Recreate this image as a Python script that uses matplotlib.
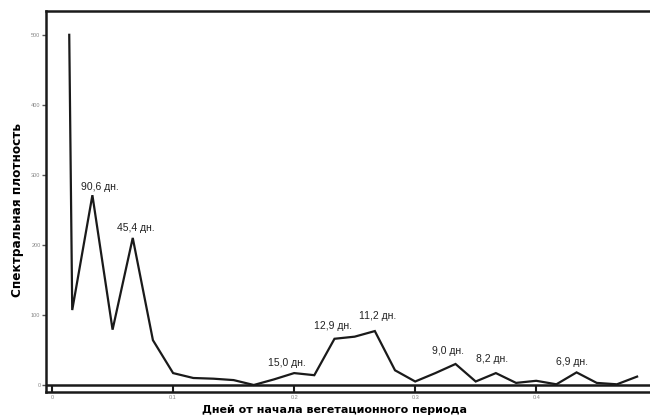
import matplotlib
matplotlib.use("Agg")
import matplotlib.pyplot as plt

# Data
freqs = [0.0142, 1/60, 2/60, 3/60, 4/60, 5/60, 6/60, 7/60, 8/60, 9/60, 10/60,
         11/60, 12/60, 13/60, 14/60, 15/60, 16/60, 17/60, 18/60, 19/60, 20/60,
         21/60, 22/60, 23/60, 24/60, 25/60, 26/60, 27/60, 28/60, 29/60]
density = [500, 107, 271, 79, 210, 64, 17, 10, 9, 7, 0,
           8, 17, 14, 66, 69, 77, 21, 5, 17, 30,
           5, 17, 3, 6, 1, 18, 3, 1, 12]

peak_labels = ["90,6 дн.", "45,4 дн.", "15,0 дн.", "12,9 дн.", "11,2 дн.",
               "9,0 дн.", "8,2 дн.", "6,9 дн."]
peak_x = [0.0397, 0.0694, 0.194, 0.2317, 0.2686, 0.327, 0.3636, 0.4298]
peak_y = [283, 224, 31, 84, 99, 49, 37, 33]

y_ticks = [0, 100, 200, 300, 400, 500]
x_ticks = [0, 0.1, 0.2, 0.3, 0.4]
x_ticklabels = ["0", "0.1", "0.2", "0.3", "0.4"]

xlabel = "Дней от начала вегетационного периода"
ylabel = "Спектральная плотность"

plt.rcParams['font.family'] = ['Liberation Sans Narrow', 'Liberation Sans', 'DejaVu Sans']

fig = plt.figure(figsize=(6.5, 4.2), dpi=100)
ax = fig.add_axes([46/650, 28/420, 1 - 46/650, (392-11)/420])

ax.plot(freqs, density, color="#1a1a1a", lw=1.6, solid_joinstyle="miter")
ax.axhline(0, color="#1a1a1a", lw=1.8)

for t, x, y in zip(peak_labels, peak_x, peak_y):
    ax.text(x, y, t, ha="center", va="center", fontsize=7.5, color="#222222")

ax.set_xlim(-0.005, 0.494)
ax.set_ylim(-10, 534)

ax.set_yticks(y_ticks)
ax.set_yticklabels([str(v) for v in y_ticks])
ax.set_xticks(x_ticks)
ax.set_xticklabels(x_ticklabels)
ax.tick_params(axis="y", direction="out", length=3, width=1, labelsize=4,
               labelcolor="#888888", color="#555555", pad=1)
ax.tick_params(axis="x", direction="in", length=5, width=1.5, labelsize=4,
               labelcolor="#888888", color="#1a1a1a", pad=2)

for s in ["left", "top", "bottom"]:
    ax.spines[s].set_linewidth(1.8)
    ax.spines[s].set_color("#1a1a1a")
ax.spines["right"].set_visible(False)

fig.text(335/650, 1 - 410/420, xlabel, ha="center", va="center",
         fontsize=8, fontweight="bold", family=['DejaVu Sans'])
fig.text(18/650, 1 - 210/420, ylabel, ha="center", va="center", rotation=90,
         fontsize=8.75, fontweight="bold", family=['DejaVu Sans'])

fig.savefig("out.png", dpi=100)
